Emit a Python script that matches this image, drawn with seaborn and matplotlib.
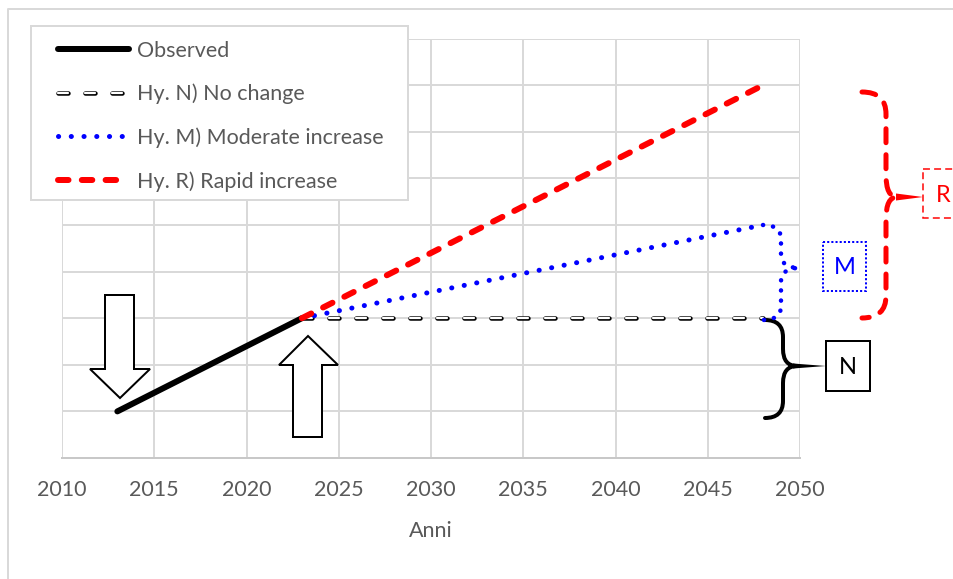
import matplotlib
matplotlib.use("Agg")
import numpy as np
import pandas as pd
import matplotlib.pyplot as plt
import matplotlib.patheffects as pe
import seaborn as sns
from matplotlib.patches import Polygon, Rectangle, PathPatch
from matplotlib.path import Path

# Data (arbitrary units)
obs_years = [2013, 2023]
obs_values = [1, 3]
proj_years = [2023, 2048]
hyp_n = [3, 3]
hyp_m = [3, 5]
hyp_r = [3, 8]
x_ticks = list(range(2010, 2051, 5))
labels = ["Observed", "Hy. N) No change", "Hy. M) Moderate increase", "Hy. R) Rapid increase"]

sns.set_style("white")
plt.rcParams['font.family'] = ['Lato', 'DejaVu Sans']
plt.rcParams['lines.scale_dashes'] = False

W, H = 954, 579
PX = 0.72  # points per pixel at 100 dpi
GREY_TXT = '#595959'
GRID = '#d9d9d9'

fig = plt.figure(figsize=(9.54, 5.79), dpi=100)
ax = fig.add_axes([62 / W, 1 - 458 / H, 738 / W, (458 - 38.6) / H])

# Lines
sns.lineplot(x=obs_years, y=obs_values, ax=ax, color='black', linewidth=6 * PX,
             solid_capstyle='round', label=labels[0])
# hollow dashes: white dash with a black stroke around it
sns.lineplot(x=proj_years, y=hyp_n, ax=ax, color='white', linewidth=2.2 * PX,
             linestyle=(0, (10 * PX, 17 * PX)), dash_capstyle='round', label=labels[1],
             path_effects=[pe.Stroke(linewidth=4.5 * PX, foreground='black'), pe.Normal()])
sns.lineplot(x=proj_years, y=hyp_m, ax=ax, color='#0000ff', linewidth=5 * PX,
             linestyle=(0, (0.1, 12.6 * PX)), dash_capstyle='round', label=labels[2])
sns.lineplot(x=proj_years, y=hyp_r, ax=ax, color='#ff0000', linewidth=6 * PX,
             linestyle=(0, (10.5 * PX, 13.3 * PX)), dash_capstyle='round', label=labels[3])

ax.set_xlim(2010, 2050)
ax.set_ylim(0, 9)
ax.set_xticks(x_ticks)
ax.set_yticks(range(0, 10))
ax.set_yticklabels([])
ax.grid(True, color=GRID, linewidth=2 * PX)
ax.set_axisbelow(True)
for s in ['top', 'right', 'left']:
    ax.spines[s].set_visible(False)
ax.spines['bottom'].set_color('#c8c8c8')
ax.spines['bottom'].set_linewidth(2 * PX)
ax.tick_params(axis='both', length=0, labelsize=15.5, colors=GREY_TXT)
ax.tick_params(axis='x', pad=16)
ax.set_xlabel('Anni', fontsize=15.5, color=GREY_TXT, labelpad=15)
ax.set_ylabel('')

# Legend with separate frame
frame = Rectangle((31 / W, 1 - 200 / H), 377 / W, 174 / H, transform=fig.transFigure,
                  facecolor='white', edgecolor=GRID, linewidth=2 * PX, zorder=4.5, clip_on=False)
ax.add_artist(frame)
leg = ax.legend(loc='upper left', bbox_to_anchor=(47 / W, 1 - 30 / H),
                bbox_transform=fig.transFigure, frameon=False, borderpad=0,
                fontsize=15.5, handlelength=3.3, handletextpad=0.38,
                labelspacing=1.07, labelcolor=GREY_TXT)
leg.set_zorder(5)

# Overlay for annotations (pixel coordinates)
ov = fig.add_axes([0, 0, 1, 1])
ov.set_xlim(0, W)
ov.set_ylim(H, 0)
ov.axis('off')
ov.patch.set_alpha(0)

# outer chart border
ov.plot([8, 8, W], [H, 9, 9], color=GRID, linewidth=2 * PX)

# hollow arrows
down = [(105, 295), (134, 295), (134, 369), (150, 369), (120, 398), (90, 369), (105, 369)]
up = [(293, 437), (322, 437), (322, 365), (338, 365), (308, 336), (279, 365), (293, 365)]
for pts in (down, up):
    ov.add_patch(Polygon(pts, closed=True, facecolor='white', edgecolor='black',
                         linewidth=2 * PX, joinstyle='miter'))


def brace(x0, xm, xt, ytop, ymid, ybot, r, **kw):
    verts = [(x0, ytop), (xm, ytop), (xm, ytop + r), (xm, ymid - r), (xm, ymid), (xt, ymid),
             (xm, ymid), (xm, ymid + r), (xm, ybot - r), (xm, ybot), (x0, ybot)]
    codes = [Path.MOVETO, Path.CURVE3, Path.CURVE3, Path.LINETO, Path.CURVE3, Path.CURVE3,
             Path.CURVE3, Path.CURVE3, Path.LINETO, Path.CURVE3, Path.CURVE3]
    ov.add_patch(PathPatch(Path(verts, codes), facecolor='none', capstyle='round', **kw))


# N brace + box
brace(765, 783, 797, 320, 366, 418, 17, edgecolor='black', linewidth=4 * PX)
ov.add_patch(Polygon([(793, 363.5), (793, 368.5), (826, 366)], closed=True, color='black', lw=0))
ov.add_patch(Rectangle((826, 341), 44, 50, facecolor='white', edgecolor='black', linewidth=2 * PX))
ov.text(848, 367, 'N', fontsize=17, color='black', ha='center', va='center')

# M brace + box
brace(763, 781, 799, 225, 268, 320, 14, edgecolor='#0000ff', linewidth=4.5 * PX,
      linestyle=(0, (0.1, 10 * PX)))
ov.add_patch(Rectangle((823, 242), 43, 49, facecolor='white', edgecolor='#0000ff',
                       linewidth=2 * PX, linestyle=(0, (1.5, 1.5))))
ov.text(845, 268, 'M', fontsize=17, color='#0000ff', ha='center', va='center')

# R brace + box
brace(862, 886, 897, 92, 197, 318, 22, edgecolor='#ff0000', linewidth=5 * PX,
      linestyle=(0, (14 * PX, 12 * PX)))
ov.add_patch(Polygon([(896, 193.5), (896, 200.5), (923, 197)], closed=True, color='#ff0000', lw=0))
ov.add_patch(Rectangle((923, 169), 45, 49, facecolor='white', edgecolor='#ff0000',
                       linewidth=1.5 * PX, linestyle=(0, (5, 3)), clip_on=False))
ov.text(936, 195, 'R', fontsize=17, color='#ff0000', ha='left', va='center')

fig.savefig('out.png', dpi=100)
